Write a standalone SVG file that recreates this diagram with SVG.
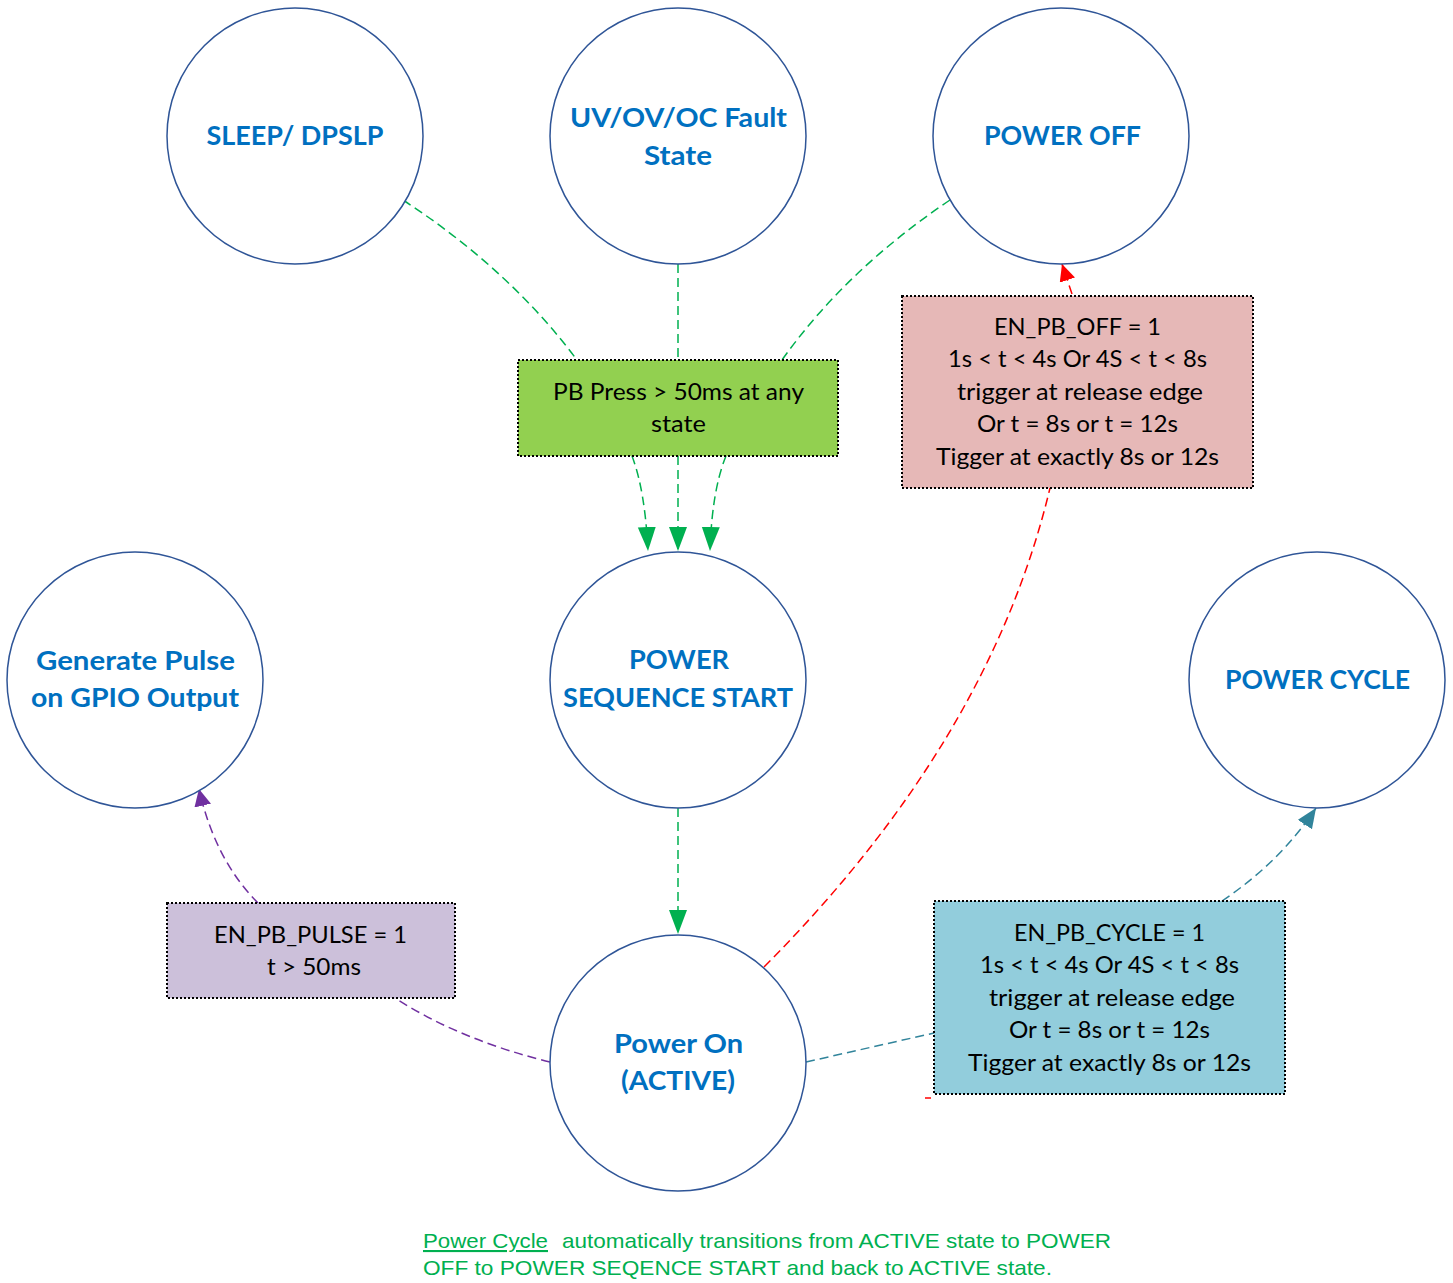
<svg xmlns="http://www.w3.org/2000/svg" width="1453" height="1283" viewBox="0 0 1453 1283">
<style>
.node{fill:#FFFFFF;stroke:#2F5597;stroke-width:1.5}
.nl{font-family:Lato,"Open Sans",sans-serif;font-weight:bold;font-size:27px;fill:#0070C0;text-anchor:middle}
.bt{font-family:Lato,"Open Sans",sans-serif;font-size:22.5px;fill:#000000;text-anchor:middle}
.box{stroke:#000000;stroke-width:2;stroke-dasharray:2 2}
.c{fill:none;stroke-width:1.5;stroke-dasharray:9 5}
.g{stroke:#00B050}
.r{stroke:#FF0000}
.p{stroke:#7030A0}
.t{stroke:#31849B}
.note{font-family:"Liberation Sans",Arial,sans-serif;font-size:21px;fill:#00B050}
</style>
<defs>
<marker id="ag" markerUnits="userSpaceOnUse" markerWidth="26" markerHeight="20" refX="24" refY="9" orient="auto"><path d="M0,0 L24,9 L0,18 Z" fill="#00B050"/></marker>
<marker id="ar" markerUnits="userSpaceOnUse" markerWidth="20" markerHeight="18" refX="17" refY="8" orient="auto"><path d="M0,0 L17,8 L0,16 Z" fill="#FF0000"/></marker>
<marker id="ap" markerUnits="userSpaceOnUse" markerWidth="20" markerHeight="18" refX="17" refY="8.5" orient="auto"><path d="M0,0 L17,8.5 L0,17 Z" fill="#7030A0"/></marker>
<marker id="at" markerUnits="userSpaceOnUse" markerWidth="22" markerHeight="18" refX="20" refY="8.5" orient="auto"><path d="M0,0 L20,8.5 L0,17 Z" fill="#31849B"/></marker>
</defs>
<rect width="1453" height="1283" fill="#FFFFFF"/>
<g id="connectors">
<path class="c g" d="M403,200 Q510,270 577,360"/>
<path class="c g" d="M678,264 L678,360"/>
<path class="c g" d="M950,200 Q846,270 782,360"/>
<path class="c g" d="M632,456 Q645,490 648,551" marker-end="url(#ag)"/>
<path class="c g" d="M678,456 L678,551" marker-end="url(#ag)"/>
<path class="c g" d="M726,456 Q712,490 710,551" marker-end="url(#ag)"/>
<path class="c g" d="M678,808 L678,934" marker-end="url(#ag)"/>
<path class="c r" d="M764,967 Q990,740 1050,488"/>
<path class="c r" d="M1072,294 L1062,264" marker-end="url(#ar)"/>
<path class="c p" d="M550,1062 Q460,1040 395,998"/>
<path class="c p" d="M258,903 Q215,860 199,789" marker-end="url(#ap)"/>
<path class="c t" d="M806,1062 L934,1033"/>
<path class="c t" d="M1222,901 Q1280,862 1316,808" marker-end="url(#at)"/>
<path d="M925,1098 L931,1098" stroke="#FF0000" stroke-width="1.5"/>
</g>
<g id="sleep"><circle class="node" cx="295" cy="136" r="128"/><text class="nl" x="295" y="145" textLength="177" lengthAdjust="spacingAndGlyphs">SLEEP/ DPSLP</text></g>
<g id="fault"><circle class="node" cx="678" cy="136" r="128"/><text class="nl" x="678.5" y="127" textLength="217" lengthAdjust="spacingAndGlyphs">UV/OV/OC Fault</text><text class="nl" x="678" y="165" textLength="68" lengthAdjust="spacingAndGlyphs">State</text></g>
<g id="poweroff"><circle class="node" cx="1061" cy="136" r="128"/><text class="nl" x="1062.5" y="145" textLength="157" lengthAdjust="spacingAndGlyphs">POWER OFF</text></g>
<g id="pulse"><circle class="node" cx="135" cy="680" r="128"/><text class="nl" x="135.5" y="670" textLength="199" lengthAdjust="spacingAndGlyphs">Generate Pulse</text><text class="nl" x="135" y="707" textLength="208" lengthAdjust="spacingAndGlyphs">on GPIO Output</text></g>
<g id="pss"><circle class="node" cx="678" cy="680" r="128"/><text class="nl" x="679" y="669" textLength="100" lengthAdjust="spacingAndGlyphs">POWER</text><text class="nl" x="678" y="707" textLength="230" lengthAdjust="spacingAndGlyphs">SEQUENCE START</text></g>
<g id="powercycle"><circle class="node" cx="1317" cy="680" r="128"/><text class="nl" x="1317.5" y="689" textLength="185" lengthAdjust="spacingAndGlyphs">POWER CYCLE</text></g>
<g id="poweron"><circle class="node" cx="678" cy="1063" r="128"/><text class="nl" x="678.5" y="1053" textLength="129" lengthAdjust="spacingAndGlyphs">Power On</text><text class="nl" x="678" y="1090" textLength="114" lengthAdjust="spacingAndGlyphs">(ACTIVE)</text></g>
<g id="pbpress"><rect class="box" x="518" y="360" width="320" height="96" fill="#92D050"/><text class="bt" x="678.5" y="400" textLength="251" lengthAdjust="spacingAndGlyphs">PB Press &gt; 50ms at any</text><text class="bt" x="678.5" y="432" textLength="55" lengthAdjust="spacingAndGlyphs">state</text></g>
<g id="offcond"><rect class="box" x="902" y="296" width="351" height="192" fill="#E6B8B7"/>
<text class="bt" x="1077.5" y="335" textLength="167" lengthAdjust="spacingAndGlyphs">EN_PB_OFF = 1</text>
<text class="bt" x="1077.5" y="367" textLength="259" lengthAdjust="spacingAndGlyphs">1s &lt; t &lt; 4s Or 4S &lt; t &lt; 8s</text>
<text class="bt" x="1080" y="400" textLength="246" lengthAdjust="spacingAndGlyphs">trigger at release edge</text>
<text class="bt" x="1077.5" y="432" textLength="201" lengthAdjust="spacingAndGlyphs">Or t = 8s or t = 12s</text>
<text class="bt" x="1077.5" y="465" textLength="283" lengthAdjust="spacingAndGlyphs">Tigger at exactly 8s or 12s</text></g>
<g id="pulsecond"><rect class="box" x="167" y="903" width="288" height="95" fill="#CCC0DA"/><text class="bt" x="310.5" y="943" textLength="193" lengthAdjust="spacingAndGlyphs">EN_PB_PULSE = 1</text><text class="bt" x="314" y="975" textLength="94" lengthAdjust="spacingAndGlyphs">t &gt; 50ms</text></g>
<g id="cyclecond"><rect class="box" x="934" y="901" width="351" height="193" fill="#92CDDC"/>
<text class="bt" x="1109.5" y="941" textLength="191" lengthAdjust="spacingAndGlyphs">EN_PB_CYCLE = 1</text>
<text class="bt" x="1109.5" y="973" textLength="259" lengthAdjust="spacingAndGlyphs">1s &lt; t &lt; 4s Or 4S &lt; t &lt; 8s</text>
<text class="bt" x="1112" y="1006" textLength="246" lengthAdjust="spacingAndGlyphs">trigger at release edge</text>
<text class="bt" x="1109.5" y="1038" textLength="201" lengthAdjust="spacingAndGlyphs">Or t = 8s or t = 12s</text>
<text class="bt" x="1109.5" y="1071" textLength="283" lengthAdjust="spacingAndGlyphs">Tigger at exactly 8s or 12s</text></g>
<g id="note">
<text class="note" x="423" y="1248" textLength="125" lengthAdjust="spacingAndGlyphs" text-decoration="underline">Power Cycle</text>
<text class="note" x="562" y="1248" textLength="549" lengthAdjust="spacingAndGlyphs">automatically transitions from ACTIVE state to POWER</text>
<text class="note" x="423" y="1275" textLength="629" lengthAdjust="spacingAndGlyphs">OFF to POWER SEQENCE START and back to ACTIVE state.</text>
</g>
</svg>
